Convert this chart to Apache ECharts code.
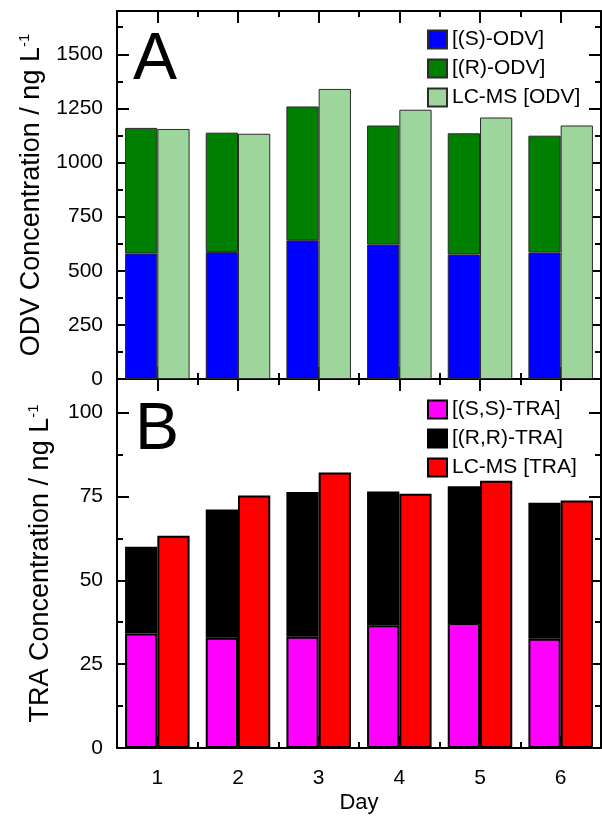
<!DOCTYPE html>
<html>
<head>
<meta charset="utf-8">
<script src="https://cdn.jsdelivr.net/npm/echarts@6/dist/echarts.min.js"></script>
<style>
  html, body { margin: 0; padding: 0; background: #fff; }
  #chart { width: 602px; height: 818px; }
</style>
</head>
<body>
<div id="chart"></div>
<script>
// data
const days = ['1', '2', '3', '4', '5', '6'];
const sOdv = [580, 587, 641, 621, 575, 584];
const rOdv = [580, 551, 618, 550, 560, 540];
const lcOdv = [1155, 1133, 1340, 1244, 1208, 1171];
const ssTra = [34.1, 32.9, 33.2, 36.6, 37.3, 32.6];
const rrTra = [25.9, 38.2, 43.1, 39.9, 40.7, 40.5];
const lcTra = [63.3, 75.3, 82.1, 75.8, 79.7, 73.8];
const odvTicks = [0, 250, 500, 750, 1000, 1250, 1500];
const odvMinor = [125, 375, 625, 875, 1125, 1375, 1625];
const traTicks = [0, 25, 50, 75, 100];
const traMinor = [12.5, 37.5, 62.5, 87.5];

const font = '"Liberation Sans", Arial, sans-serif';
const black = () => ({ color: '#000', width: 2 });

// category axes: major ticks at day centres, minor ticks on the group boundaries
const xAx = (grid, pos, major, labels) => ({
  type: 'category',
  gridIndex: grid,
  position: pos,
  data: days,
  axisLine: { show: major, onZero: false, lineStyle: black() },
  axisTick: { show: true, inside: true, interval: 0, alignWithLabel: major, length: major ? 12 : 6, lineStyle: black() },
  axisLabel: { show: labels, color: '#000', fontSize: 21, fontFamily: font, margin: 20 },
  splitLine: { show: false }
});

const yAx = (grid, pos, max, ticks, major, labels, name) => ({
  type: 'value',
  gridIndex: grid,
  position: pos,
  min: 0,
  max,
  axisLine: { show: major, onZero: false, lineStyle: black() },
  axisTick: { show: true, inside: true, length: major ? 12 : 6, customValues: ticks, lineStyle: black() },
  axisLabel: {
    show: labels, customValues: ticks, color: '#000', fontSize: 21, fontFamily: font, margin: 14,
    formatter: (v) => String(v)
  },
  splitLine: { show: false },
  name: name || '',
  nameLocation: 'middle',
  nameGap: 62,
  nameTextStyle: {
    color: '#000',
    fontFamily: font,
    rich: {
      a: { fontSize: 27, fontFamily: font, color: '#000' },
      s: { fontSize: 15, fontFamily: font, color: '#000', padding: [0, 0, 14, 0] }
    }
  }
});

const chart = echarts.init(document.getElementById('chart'));

const barA = { type: 'bar', xAxisIndex: 0, yAxisIndex: 0, barWidth: '40%', barGap: '0%' };
const barB = { type: 'bar', xAxisIndex: 4, yAxisIndex: 4, barWidth: '40%', barGap: '0%' };
const edgeA = { borderColor: '#2b2b2b', borderWidth: 1 };
const edgeB = { borderColor: '#000', borderWidth: 2 };

const legendBase = {
  orient: 'vertical',
  left: 422,
  itemWidth: 19,
  itemHeight: 18,
  itemGap: 8,
  icon: 'rect',
  textStyle: { color: '#000', fontSize: 21, fontFamily: font }
};

chart.setOption({
  animation: false,
  grid: [
    { left: 117, right: 1, top: 11, height: 368, outerBoundsMode: 'none', containLabel: false },
    { left: 117, right: 1, top: 379, height: 369, outerBoundsMode: 'none', containLabel: false }
  ],
  xAxis: [
    xAx(0, 'bottom', true, false),
    xAx(0, 'bottom', false, false),
    xAx(0, 'top', true, false),
    xAx(0, 'top', false, false),
    Object.assign(xAx(1, 'bottom', true, true), {
      name: 'Day', nameLocation: 'middle', nameGap: 44,
      nameTextStyle: { color: '#000', fontSize: 22, fontFamily: font }
    }),
    xAx(1, 'bottom', false, false),
    xAx(1, 'top', true, false),
    xAx(1, 'top', false, false)
  ],
  yAxis: [
    yAx(0, 'left', 1700, odvTicks, true, true, '{a|ODV Concentration / ng L}{s|-1}'),
    yAx(0, 'left', 1700, odvMinor, false, false),
    yAx(0, 'right', 1700, odvTicks, true, false),
    yAx(0, 'right', 1700, odvMinor, false, false),
    yAx(1, 'left', 110, traTicks, true, true, '{a|TRA Concentration / ng L}{s|-1}'),
    yAx(1, 'left', 110, traMinor, false, false),
    yAx(1, 'right', 110, traTicks, true, false),
    yAx(1, 'right', 110, traMinor, false, false)
  ],
  legend: [
    Object.assign({}, legendBase, { top: 24, data: ['[(S)-ODV]', '[(R)-ODV]', 'LC-MS [ODV]'] }),
    Object.assign({}, legendBase, { top: 394, data: ['[(S,S)-TRA]', '[(R,R)-TRA]', 'LC-MS [TRA]'] })
  ],
  graphic: [
    { type: 'text', left: 133, top: 28, style: { text: 'A', fontSize: 66, fontFamily: font, fill: '#000' } },
    { type: 'text', left: 135, top: 398, style: { text: 'B', fontSize: 66, fontFamily: font, fill: '#000' } }
  ],
  series: [
    Object.assign({}, barA, { name: '[(S)-ODV]', stack: 'odv', data: sOdv, itemStyle: Object.assign({ color: '#0000ff' }, edgeA) }),
    Object.assign({}, barA, { name: '[(R)-ODV]', stack: 'odv', data: rOdv, itemStyle: Object.assign({ color: '#008000' }, edgeA) }),
    Object.assign({}, barA, { name: 'LC-MS [ODV]', data: lcOdv, itemStyle: Object.assign({ color: '#9dd59d' }, edgeA) }),
    Object.assign({}, barB, { name: '[(S,S)-TRA]', stack: 'tra', data: ssTra, itemStyle: Object.assign({ color: '#ff00ff' }, edgeB) }),
    Object.assign({}, barB, { name: '[(R,R)-TRA]', stack: 'tra', data: rrTra, itemStyle: Object.assign({ color: '#000000' }, edgeB) }),
    Object.assign({}, barB, { name: 'LC-MS [TRA]', data: lcTra, itemStyle: Object.assign({ color: '#ff0000' }, edgeB) })
  ]
});
</script>
</body>
</html>
